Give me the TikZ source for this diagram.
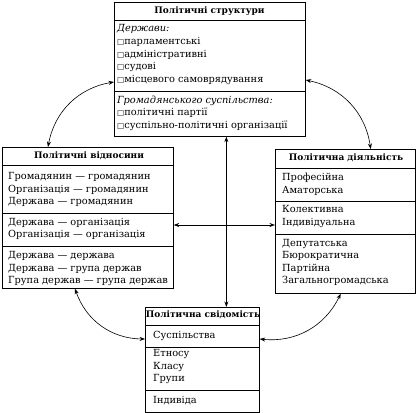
\documentclass[tikz,border=0pt]{standalone}
\usepackage{fontspec}
\setmainfont{DejaVu Serif}
\newfontfamily\symf{DejaVu Sans}
\usetikzlibrary{arrows.meta}
\newcommand{\sqb}{{\symf\fontsize{7.5}{7.5}\selectfont □}}
\begin{document}
\begin{tikzpicture}[x=1pt,y=-1pt,
 box/.style={draw, line width=0.7pt, inner sep=0pt, anchor=north west},
 sep/.style={line width=0.7pt},
 ttl/.style={font=\fontsize{9}{10}\selectfont\bfseries, inner sep=0pt},
 txt/.style={font=\fontsize{9.8}{12.5}\selectfont, align=left, anchor=west, inner sep=0pt},
 txtt/.style={txt, font=\fontsize{9.8}{12.7}\selectfont},
 link/.style={line width=0.6pt, {Stealth[length=5.5pt,width=4pt]}-{Stealth[length=5.5pt,width=4pt]}}]
\useasboundingbox (0,0) rectangle (416,413);
% boxes
\node[box, minimum width=191pt, minimum height=134pt] (ps) at (114,2) {};
\node[box, minimum width=171pt, minimum height=141pt] (pv) at (2,147) {};
\node[box, minimum width=140pt, minimum height=144pt] (pd) at (275,149) {};
\node[box, minimum width=114pt, minimum height=105pt] (sv) at (145,307) {};
% separators
\draw[sep] ([yshift=-18pt]ps.north west) -- ([yshift=-18pt]ps.north east);
\draw[sep] ([yshift=-89pt]ps.north west) -- ([yshift=-89pt]ps.north east);
\draw[sep] ([yshift=-18pt]pv.north west) -- ([yshift=-18pt]pv.north east);
\draw[sep] ([yshift=-66pt]pv.north west) -- ([yshift=-66pt]pv.north east);
\draw[sep] ([yshift=-99pt]pv.north west) -- ([yshift=-99pt]pv.north east);
\draw[sep] ([yshift=-19pt]pd.north west) -- ([yshift=-19pt]pd.north east);
\draw[sep] ([yshift=-52pt]pd.north west) -- ([yshift=-52pt]pd.north east);
\draw[sep] ([yshift=-85pt]pd.north west) -- ([yshift=-85pt]pd.north east);
\draw[sep] ([yshift=-18pt]sv.north west) -- ([yshift=-18pt]sv.north east);
\draw[sep] ([yshift=-40pt]sv.north west) -- ([yshift=-40pt]sv.north east);
\draw[sep] ([yshift=-83pt]sv.north west) -- ([yshift=-83pt]sv.north east);
% texts
\node[ttl] (pst) at (209.5,11) {Політичні структури};
\node[txtt] (ps1) at (117,54.7) {\textit{Держави:}\\\sqb парламентські\\\sqb адміністративні\\\sqb судові\\\sqb місцевого самоврядування};
\node[txtt] (ps2) at (117,113.3) {\textit{Громадянського суспільства:}\\\sqb політичні партії\\\sqb суспільно-політичні організації};
\node[ttl] (pvt) at (89,156) {Політичні відносини};
\node[txt] (pv1) at (8,189.5) {Громадянин — громадянин\\Організація — громадянин\\Держава — громадянин};
\node[txt] (pv2) at (8,229) {Держава — організація\\Організація — організація};
\node[txt] (pv3) at (8,269) {Держава — держава\\Держава — група держав\\Група держав — група держав};
\node[ttl] (pdt) at (346,157.5) {Політична діяльність};
\node[txt] (pd1) at (282,184.5) {Професійна\\Аматорська};
\node[txt] (pd2) at (282,216.7) {Колективна\\Індивідуальна};
\node[txt] (pd3) at (282,262.5) {Депутатська\\Бюрократична\\Партійна\\Загальногромадська};
\node[ttl] (svt) at (203,315) {Політична свідомість};
\node[txt] (sv1) at (153,336) {Суспільства};
\node[txt] (sv2) at (153,367) {Етносу\\Класу\\Групи};
\node[txt] (sv3) at (153,401) {Індивіда};
% connectors
\draw[link] ([xshift=16.5pt]ps.south) -- ([xshift=24pt]sv.north);
\draw[link] ([yshift=-78pt]pv.north east) -- ([yshift=-76pt]pd.north west);
\draw[link] ([yshift=-80pt]ps.north west) to[bend right=35] ([xshift=46pt]pv.north west);
\draw[link] ([yshift=-78pt]ps.north east) to[bend left=35] ([xshift=-45pt]pd.north east);
\draw[link] ([xshift=73pt]pv.south west) to[bend right=35] ([yshift=-32pt]sv.north west);
\draw[link] ([xshift=-75pt]pd.south east) to[bend left=35] ([yshift=-32pt]sv.north east);
\end{tikzpicture}
\end{document}
